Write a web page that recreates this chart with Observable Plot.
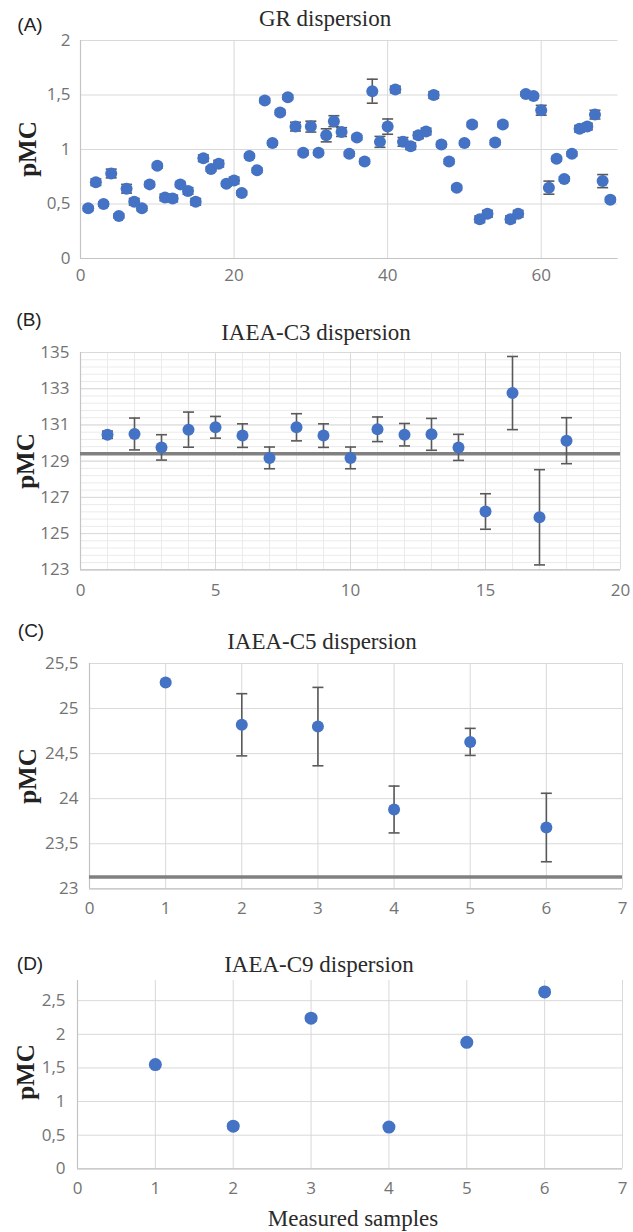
<!DOCTYPE html>
<html>
<head>
<meta charset="utf-8">
<script src="https://cdn.jsdelivr.net/npm/d3@7"></script>
<script src="https://cdn.jsdelivr.net/npm/@observablehq/plot@0.6"></script>
<style>
  html, body { margin: 0; padding: 0; background: #fff; }
  #root { position: relative; width: 633px; height: 1232px; overflow: hidden; background: #fff; }
  .panel { position: absolute; left: 0; }
  .txt { position: absolute; white-space: nowrap; line-height: 1; transform: translate(-50%, -50%); }
  .title { font-family: "Liberation Serif", "Times New Roman", serif; font-size: 23px; color: #2a2a2a; }
  .tag { font-family: "Liberation Sans", Arial, sans-serif; font-size: 19px; color: #222; }
  .ylab { font-family: "Liberation Serif", "Times New Roman", serif; font-size: 25px; font-weight: bold; color: #222; transform: translate(-50%, -50%) rotate(-90deg); }
</style>
</head>
<body>
<div id="root"></div>
<script>
// ---------- DATA ----------
// (A) GR dispersion
const grSamples = d3.range(1, 70);
const grValues = [
  0.46,0.70,0.50,0.78,0.39,0.64,0.52,0.46,0.68,0.85,
  0.56,0.55,0.68,0.62,0.52,0.92,0.82,0.87,0.685,0.715,
  0.60,0.94,0.81,1.45,1.06,1.34,1.48,1.21,0.97,1.21,
  0.97,1.13,1.26,1.16,0.96,1.11,0.89,1.535,1.07,1.21,
  1.55,1.07,1.03,1.13,1.165,1.50,1.045,0.89,0.65,1.06,
  1.23,0.36,0.41,1.065,1.23,0.36,0.41,1.51,1.49,1.36,
  0.65,0.915,0.73,0.96,1.19,1.21,1.32,0.71,0.54
];
const grErrors = [
  0.02,0.03,0.02,0.04,0.02,0.04,0.03,0.02,0.02,0.02,
  0.03,0.03,0.02,0.03,0.03,0.03,0.02,0.03,0.02,0.03,
  0.02,0.02,0.02,0.02,0.02,0.02,0.02,0.04,0.02,0.05,
  0.02,0.06,0.05,0.04,0.02,0.02,0.02,0.11,0.05,0.07,
  0.03,0.04,0.03,0.03,0.03,0.03,0.02,0.02,0.02,0.02,
  0.02,0.03,0.03,0.02,0.02,0.03,0.03,0.02,0.02,0.045,
  0.06,0.02,0.02,0.02,0.03,0.03,0.04,0.06,0.02
];
const grXTicks = [0, 20, 40, 60];
const grYTicks = [0, 0.5, 1, 1.5, 2];

// (B) IAEA-C3 dispersion
const c3Samples = d3.range(1, 19);
const c3Values = [130.46,130.5,129.76,130.74,130.87,130.41,129.18,130.87,130.41,129.18,130.76,130.46,130.48,129.76,126.22,132.76,125.9,130.13];
const c3Errors = [0.2,0.88,0.7,0.97,0.6,0.65,0.6,0.75,0.65,0.6,0.68,0.62,0.88,0.72,0.98,2.02,2.63,1.27];
const c3Reference = 129.41;
const c3XTicks = [0, 5, 10, 15, 20];
const c3YTicks = [123, 125, 127, 129, 131, 133, 135];

// (C) IAEA-C5 dispersion
const c5Samples = [1, 2, 3, 4, 5, 6];
const c5Values = [25.29, 24.82, 24.80, 23.88, 24.63, 23.68];
const c5Errors = [0.02, 0.345, 0.435, 0.26, 0.15, 0.38];
const c5Reference = 23.13;
const c5XTicks = [0, 1, 2, 3, 4, 5, 6, 7];
const c5YTicks = [23, 23.5, 24, 24.5, 25, 25.5];

// (D) IAEA-C9 dispersion
const c9Samples = [1, 2, 3, 4, 5, 6];
const c9Values = [1.55, 0.634, 2.24, 0.62, 1.88, 2.63];
const c9Errors = [0.03, 0.04, 0.04, 0.03, 0.03, 0.04];
const c9XTicks = [0, 1, 2, 3, 4, 5, 6, 7];
const c9YTicks = [0, 0.5, 1, 1.5, 2, 2.5];

// ---------- STYLE ----------
const dotColor = "#4472c4";
const gridColor = "#d9d9d9";
const minorGridColor = "#ebebeb";
const axisColor = "#c4c4c4";
const errColor = "#595959";
const refColor = "#808080";
const tickColor = "#737373";
const tickFont = "Open Sans, Liberation Sans, sans-serif";

const fmt = d => String(d).replace(".", ",");
const cap = { draw(ctx) { ctx.moveTo(-5.5, 0); ctx.lineTo(5.5, 0); } };

function rows(xs, vs, es) {
  return xs.map((x, i) => ({ x, v: vs[i], e: es[i] }));
}

function panel(o) {
  const data = rows(o.xs, o.vs, o.es);
  const marks = [];
  if (o.minorX) marks.push(Plot.gridX(o.minorX, { stroke: minorGridColor, strokeOpacity: 1 }));
  if (o.minorY) marks.push(Plot.gridY(o.minorY, { stroke: minorGridColor, strokeOpacity: 1 }));
  marks.push(
    Plot.gridY(o.yTicks, { stroke: gridColor, strokeOpacity: 1 }),
    Plot.gridX(o.xTicks, { stroke: gridColor, strokeOpacity: 1 }),
    Plot.ruleY([o.yDomain[0]], { stroke: axisColor, strokeWidth: 1.2 }),
    Plot.ruleX([o.xDomain[0]], { stroke: axisColor, strokeWidth: 1.2 })
  );
  if (o.ref != null) marks.push(Plot.ruleY([o.ref], { stroke: refColor, strokeWidth: 3.5 }));
  marks.push(
    Plot.ruleX(data, { x: "x", y1: d => d.v - d.e, y2: d => d.v + d.e, stroke: errColor, strokeWidth: 1.6 }),
    Plot.dot(data, { x: "x", y: d => d.v - d.e, symbol: cap, fill: "none", stroke: errColor, strokeWidth: 1.6 }),
    Plot.dot(data, { x: "x", y: d => d.v + d.e, symbol: cap, fill: "none", stroke: errColor, strokeWidth: 1.6 }),
    Plot.dot(data, { x: "x", y: "v", r: o.r || 6, fill: dotColor, stroke: "none" }),
    Plot.axisX(o.xTicks, { tickSize: 0, tickPadding: o.xPad, tickFormat: fmt, fontSize: 17, fill: tickColor, fontFamily: tickFont }),
    Plot.axisY(o.yTicks, { tickSize: 0, tickPadding: o.yPad, tickFormat: fmt, fontSize: 17, fill: tickColor, fontFamily: tickFont })
  );
  const svg = Plot.plot({
    width: 633,
    height: o.height,
    marginLeft: o.left,
    marginRight: 633 - o.right,
    marginTop: o.top,
    marginBottom: o.height - o.bottom,
    style: { background: "transparent", fontFamily: tickFont, color: tickColor, overflow: "visible" },
    x: { domain: o.xDomain, label: null },
    y: { domain: o.yDomain, label: null },
    marks
  });
  const div = document.createElement("div");
  div.className = "panel";
  div.style.top = o.offset + "px";
  div.appendChild(svg);
  return div;
}

function addText(cls, text, x, y) {
  const d = document.createElement("div");
  d.className = "txt " + cls;
  d.textContent = text;
  d.style.left = x + "px";
  d.style.top = y + "px";
  root.appendChild(d);
}

const root = document.getElementById("root");

// (A)
root.appendChild(panel({
  offset: 0, height: 295, left: 80, right: 617.5, top: 40, bottom: 258,
  xs: grSamples, vs: grValues, es: grErrors,
  xDomain: [0, 70], yDomain: [0, 2], xTicks: grXTicks, yTicks: grYTicks,
  xPad: 10, yPad: 10, r: 6
}));
// (B)
root.appendChild(panel({
  offset: 300, height: 305, left: 80, right: 620, top: 52, bottom: 269.3,
  xs: c3Samples, vs: c3Values, es: c3Errors, ref: c3Reference,
  xDomain: [0, 20], yDomain: [123, 135], xTicks: c3XTicks, yTicks: c3YTicks,
  minorX: d3.range(0, 21, 1), minorY: d3.range(123, 135.001, 0.4),
  xPad: 14, yPad: 11, r: 6
}));
// (C)
root.appendChild(panel({
  offset: 620, height: 300, left: 89, right: 622, top: 43, bottom: 268.3,
  xs: c5Samples, vs: c5Values, es: c5Errors, ref: c5Reference,
  xDomain: [0, 7], yDomain: [23, 25.5], xTicks: c5XTicks, yTicks: c5YTicks,
  xPad: 13, yPad: 11, r: 6
}));
// (D)
root.appendChild(panel({
  offset: 940, height: 265, left: 77, right: 622, top: 40, bottom: 228.3,
  xs: c9Samples, vs: c9Values, es: c9Errors,
  xDomain: [0, 7], yDomain: [0, 2.8], xTicks: c9XTicks, yTicks: c9YTicks,
  xPad: 13, yPad: 12, r: 6.5
}));

// Titles, tags, axis labels
addText("title", "GR dispersion", 325, 18);
addText("title", "IAEA-C3 dispersion", 316, 332);
addText("title", "IAEA-C5 dispersion", 322, 641);
addText("title", "IAEA-C9 dispersion", 319, 964);

addText("tag", "(A)", 30, 24);
addText("tag", "(B)", 29, 319);
addText("tag", "(C)", 31, 630);
addText("tag", "(D)", 30, 963);

addText("ylab", "pMC", 27, 149);
addText("ylab", "pMC", 25, 461);
addText("ylab", "pMC", 27, 776);
addText("ylab", "pMC", 25, 1072);

addText("title", "Measured samples", 353, 1218);
</script>
</body>
</html>
